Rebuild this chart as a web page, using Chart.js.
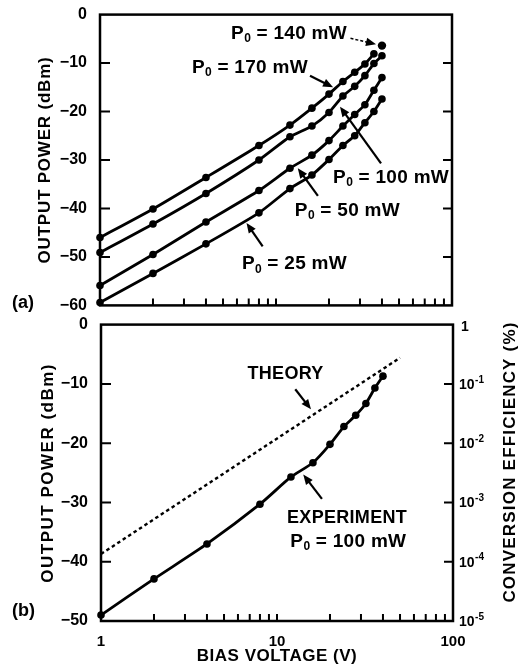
<!DOCTYPE html>
<html><head><meta charset="utf-8">
<script src="https://cdn.jsdelivr.net/npm/chart.js@4"></script>
<style>
body{margin:0;background:#fff;width:532px;height:667px;overflow:hidden;position:relative}
#a{position:absolute;left:0;top:0}
#b{position:absolute;left:0;top:310px}
</style></head><body>
<canvas id="a" width="532" height="320"></canvas>
<canvas id="b" width="532" height="357"></canvas>
<script>
// ---- data ----
const biasV = [1, 2, 4, 8, 12, 16, 20, 24, 28, 32, 36, 40];
const p170 = [-46.0, -40.1, -33.6, -27.0, -22.8, -19.3, -16.4, -13.8, -11.9, -10.2, -8.1];
const p100 = [-49.1, -43.2, -36.9, -30.0, -25.2, -23.0, -20.2, -16.8, -14.8, -12.6, -10.1, -8.5];
const p50  = [-55.9, -49.5, -42.8, -36.3, -31.7, -29.0, -26.0, -23.0, -20.6, -18.6, -15.6, -13.0];
const p25  = [-59.4, -53.4, -47.3, -40.9, -35.9, -33.1, -29.9, -27.0, -25.0, -22.3, -20.0, -17.4];
const p140V = [40];
const p140  = [-6.4];
const expP100 = [-49.0, -42.9, -37.0, -30.3, -25.7, -23.3, -20.2, -17.2, -15.3, -13.3, -10.7, -8.7];
const theoryV = [1, 50];
const theoryP = [-38.7, -5.6];
const powerTicksA = [0, -10, -20, -30, -40, -50, -60];
const powerTicksB = [0, -10, -20, -30, -40, -50];
const biasTicks = [1, 10, 100];
const biasMinor = [2, 3, 4, 5, 6, 7, 8, 9, 20, 30, 40, 50, 60, 70, 80, 90];
const effTicks = [1, 1e-1, 1e-2, 1e-3, 1e-4, 1e-5];
const effExp = ['', '-1', '-2', '-3', '-4', '-5'];

const pts = (xs, ys) => ys.map((y, i) => ({x: xs[i], y}));
const FONT = '"Liberation Sans", Arial, Helvetica, sans-serif';
const minus = v => (v < 0 ? '\u2212' + Math.abs(v) : String(v));

// ---- annotation specs (data coordinates) ----
const notesA = [
  {v: 5.55, p: -3.9, val: '140 mW'},
  {v: 3.33, p: -10.9, val: '170 mW'},
  {v: 21.1, p: -33.7, val: '100 mW'},
  {v: 12.8, p: -40.4, val: '50 mW'},
  {v: 6.4,  p: -51.5, val: '25 mW'}
];
const arrowsA = [
  {from: [26.5, -4.9], to: [37, -6.1], dash: true},
  {from: [15.6, -12.6], to: [21.1, -15.0]},
  {from: [39.5, -30.7], to: [23.1, -19.0]},
  {from: [17.3, -37.4], to: [13.3, -31.7]},
  {from: [8.4, -47.8], to: [6.8, -43.0]}
];
const arrowsB = [
  {from: [12.7, -10.9], to: [15.6, -14.3]},
  {from: [18.0, -29.4], to: [14.1, -25.3]}
];

function arrow(ctx, x1, y1, x2, y2, dash) {
  const ang = Math.atan2(y2 - y1, x2 - x1), hl = 10, hw = 4.2;
  ctx.save();
  ctx.strokeStyle = '#000'; ctx.fillStyle = '#000';
  ctx.lineWidth = dash ? 1.5 : 2.2;
  if (dash) ctx.setLineDash([3, 2]);
  ctx.beginPath(); ctx.moveTo(x1, y1);
  ctx.lineTo(x2 - Math.cos(ang) * hl * 0.8, y2 - Math.sin(ang) * hl * 0.8); ctx.stroke();
  ctx.setLineDash([]);
  ctx.beginPath(); ctx.moveTo(x2, y2);
  ctx.lineTo(x2 - hl * Math.cos(ang) + hw * Math.sin(ang), y2 - hl * Math.sin(ang) - hw * Math.cos(ang));
  ctx.lineTo(x2 - hl * Math.cos(ang) - hw * Math.sin(ang), y2 - hl * Math.sin(ang) + hw * Math.cos(ang));
  ctx.closePath(); ctx.fill();
  ctx.restore();
}
function pLabel(ctx, x, y, val) {
  ctx.save();
  ctx.fillStyle = '#000'; ctx.textAlign = 'left'; ctx.textBaseline = 'middle';
  ctx.font = 'bold 19px ' + FONT;
  ctx.fillText('P', x, y);
  let w = ctx.measureText('P').width;
  ctx.font = 'bold 12px ' + FONT;
  ctx.fillText('0', x + w + 0.5, y + 5);
  w += ctx.measureText('0').width + 0.5;
  ctx.font = 'bold 19px ' + FONT;
  ctx.letterSpacing = '0.3px';
  ctx.fillText(' = ' + val, x + w, y);
  ctx.restore();
}
function text(ctx, s, x, y, size, align, rot, ls) {
  ctx.save();
  ctx.fillStyle = '#000'; ctx.font = 'bold ' + size + 'px ' + FONT;
  ctx.textAlign = align || 'left'; ctx.textBaseline = 'middle';
  if (ls) ctx.letterSpacing = ls + 'px';
  ctx.translate(x, y); if (rot) ctx.rotate(rot);
  ctx.fillText(s, 0, 0);
  ctx.restore();
}
function frameAndTicks(chart, yTicks, rightTicks) {
  const ctx = chart.ctx, a = chart.chartArea, x = chart.scales.x, y = chart.scales.y;
  ctx.save();
  ctx.strokeStyle = '#000'; ctx.lineWidth = 2;
  ctx.beginPath();
  [...biasMinor, 10].forEach(v => {
    const px = x.getPixelForValue(v);
    ctx.moveTo(px, a.bottom); ctx.lineTo(px, a.bottom - 7);
  });
  yTicks.forEach(v => {
    const py = y.getPixelForValue(v);
    ctx.moveTo(a.left, py); ctx.lineTo(a.left + 10, py);
  });
  rightTicks.forEach(py => { ctx.moveTo(a.right, py); ctx.lineTo(a.right - 9, py); });
  ctx.stroke();
  ctx.lineWidth = 2.5;
  ctx.strokeRect(a.left, a.top, a.right - a.left, a.bottom - a.top);
  ctx.restore();
}

const lineDs = (label, data, extra) => Object.assign({
  label, data, borderColor: '#000', backgroundColor: '#000', borderWidth: 2.8,
  pointRadius: 3.8, pointHoverRadius: 3.8, pointBorderWidth: 0, tension: 0.2, clip: false
}, extra || {});

const common = {
  responsive: false, animation: false, devicePixelRatio: 1,
  plugins: {legend: {display: false}, tooltip: {enabled: false}},
  events: []
};

// ---- chart (a) ----
new Chart(document.getElementById('a'), {
  type: 'line',
  data: {datasets: [
    lineDs('P0 = 170 mW', pts(biasV, p170)),
    lineDs('P0 = 100 mW', pts(biasV, p100)),
    lineDs('P0 = 50 mW', pts(biasV, p50)),
    lineDs('P0 = 25 mW', pts(biasV, p25)),
    lineDs('P0 = 140 mW', pts(p140V, p140), {showLine: false, pointRadius: 4.2})
  ]},
  options: Object.assign({}, common, {
    layout: {padding: {top: 13, right: 80, left: 0, bottom: 0}},
    scales: {
      x: {type: 'logarithmic', min: 1, max: 100,
          grid: {display: false}, border: {display: false},
          ticks: {display: false},
          afterFit: s => { s.height = 9; }},
      y: {type: 'linear', min: -60, max: 0,
          grid: {display: false}, border: {display: false},
          afterBuildTicks: s => { s.ticks = powerTicksA.map(v => ({value: v})); },
          ticks: {color: '#000', font: {family: FONT, size: 16, weight: 'bold'}, padding: 5,
                  callback: v => minus(v)},
          afterFit: s => { s.width = 100; }}
    }
  }),
  plugins: [{
    id: 'decorA',
    afterDraw(chart) {
      const ctx = chart.ctx, x = chart.scales.x, y = chart.scales.y, a = chart.chartArea;
      frameAndTicks(chart, powerTicksA.slice(1, -1),
        powerTicksA.slice(1, -1).map(v => y.getPixelForValue(v)));
      text(ctx, 'OUTPUT POWER (dBm)', 45, (a.top + a.bottom) / 2, 17, 'center', -Math.PI / 2, 0.8);
      text(ctx, '(a)', 12, 303, 18, 'left');
      notesA.forEach(n => pLabel(ctx, x.getPixelForValue(n.v), y.getPixelForValue(n.p), n.val));
      arrowsA.forEach(r => arrow(ctx, x.getPixelForValue(r.from[0]), y.getPixelForValue(r.from[1]),
        x.getPixelForValue(r.to[0]), y.getPixelForValue(r.to[1]), r.dash));
    }
  }]
});

// ---- chart (b) ----
new Chart(document.getElementById('b'), {
  type: 'line',
  data: {datasets: [
    lineDs('EXPERIMENT P0 = 100 mW', pts(biasV, expP100)),
    lineDs('THEORY', pts(theoryV, theoryP), {borderDash: [3.5, 3], borderWidth: 2.4, pointRadius: 0, tension: 0})
  ]},
  options: Object.assign({}, common, {
    layout: {padding: {top: 13, right: 0, left: 0, bottom: 0}},
    scales: {
      x: {type: 'logarithmic', min: 1, max: 100,
          grid: {display: false}, border: {display: false},
          afterBuildTicks: s => { s.ticks = biasTicks.map(v => ({value: v})); },
          ticks: {color: '#000', font: {family: FONT, size: 15, weight: 'bold'}, padding: 4,
                  maxRotation: 0, autoSkip: false, callback: v => String(v)},
          afterFit: s => { s.height = 46; }},
      y: {type: 'linear', min: -50, max: 0,
          grid: {display: false}, border: {display: false},
          afterBuildTicks: s => { s.ticks = powerTicksB.map(v => ({value: v})); },
          ticks: {color: '#000', font: {family: FONT, size: 16, weight: 'bold'}, padding: 5,
                  callback: v => minus(v)},
          afterFit: s => { s.width = 101; }},
      y1: {type: 'logarithmic', position: 'right', min: 1e-5, max: 1,
          grid: {display: false}, border: {display: false},
          ticks: {display: false},
          afterFit: s => { s.width = 79; }}
    }
  }),
  plugins: [{
    id: 'decorB',
    afterDraw(chart) {
      const ctx = chart.ctx, x = chart.scales.x, y = chart.scales.y, y1 = chart.scales.y1, a = chart.chartArea;
      frameAndTicks(chart, powerTicksB.slice(1, -1),
        effTicks.slice(1, -1).map(v => y1.getPixelForValue(v)));
      // right axis labels
      effTicks.forEach((v, i) => {
        const py = y1.getPixelForValue(v) + (i === 0 ? 3 : 0);
        const lx = a.right + 6;
        if (i === 0) { text(ctx, '1', lx + 2, py, 14, 'left'); return; }
        text(ctx, '10', lx, py + 1, 14, 'left');
        ctx.save(); ctx.font = 'bold 14px ' + FONT; const w = ctx.measureText('10').width; ctx.restore();
        text(ctx, effExp[i], lx + w + 0.5, py - 4, 10, 'left');
      });
      text(ctx, 'OUTPUT POWER (dBm)', 48, (a.top + a.bottom) / 2, 17, 'center', -Math.PI / 2, 1.5);
      text(ctx, 'CONVERSION EFFICIENCY (%)', 510, 152, 17, 'center', -Math.PI / 2, 1.2);
      text(ctx, 'BIAS VOLTAGE (V)', (a.left + a.right) / 2, 346, 17, 'center', 0, 0.5);
      text(ctx, '(b)', 12, 301, 18, 'left');
      text(ctx, 'THEORY', x.getPixelForValue(6.8), y.getPixelForValue(-8.4), 18, 'left', 0, 0.3);
      text(ctx, 'EXPERIMENT', x.getPixelForValue(11.4), y.getPixelForValue(-32.7), 18, 'left', 0, 0.3);
      pLabel(ctx, x.getPixelForValue(11.9), y.getPixelForValue(-36.6), '100 mW');
      arrowsB.forEach(r => arrow(ctx, x.getPixelForValue(r.from[0]), y.getPixelForValue(r.from[1]),
        x.getPixelForValue(r.to[0]), y.getPixelForValue(r.to[1]), r.dash));
    }
  }]
});
</script>
</body></html>
